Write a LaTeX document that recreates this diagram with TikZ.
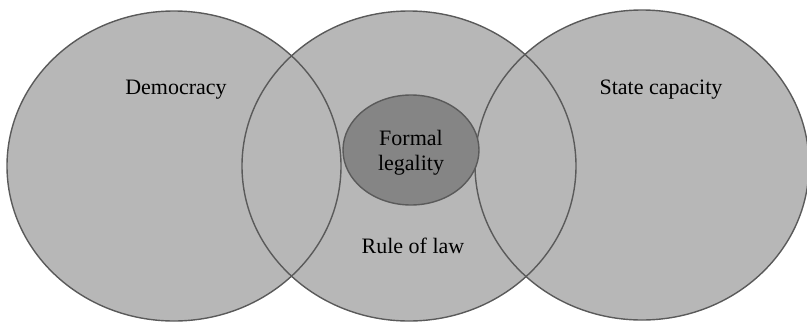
\documentclass[tikz,border=0pt]{standalone}
\usepackage{fontspec}
\setmainfont{Liberation Serif}
\usetikzlibrary{shapes.geometric}
\definecolor{circfill}{HTML}{B7B7B7}
\definecolor{innerfill}{HTML}{858585}
\definecolor{edgecol}{HTML}{5A5A5A}
\tikzset{
  bigfill/.style={ellipse, fill=circfill, minimum width=334pt, minimum height=310pt, inner sep=0pt},
  bigline/.style={ellipse, draw=edgecol, line width=1.4pt, minimum width=334pt, minimum height=310pt, inner sep=0pt},
  innerell/.style={ellipse, fill=innerfill, draw=edgecol, line width=1.4pt, minimum width=136pt, minimum height=110pt, inner sep=0pt},
  lbl/.style={font=\fontsize{22}{25}\selectfont, text=black, align=center, inner sep=0pt}
}
\begin{document}
\begin{tikzpicture}[x=1pt,y=-1pt]
\useasboundingbox (0,0) rectangle (807,322);
\node[bigfill] (Lf) at (174,166) {};
\node[bigfill] (Mf) at (409,166) {};
\node[bigfill] (Rf) at (642,165) {};
\node[bigline] (L) at (174,166) {};
\node[bigline] (M) at (409,166) {};
\node[bigline] (R) at (642,165) {};
\node[innerell] (I) at (411,150) {};
\node[lbl] (dem) at (176,90) {Democracy};
\node[lbl] (sc) at (661,90) {State capacity};
\node[lbl] (fl) at (411,153) {Formal\\legality};
\node[lbl] (rol) at (413,246) {Rule of law};
\end{tikzpicture}
\end{document}
